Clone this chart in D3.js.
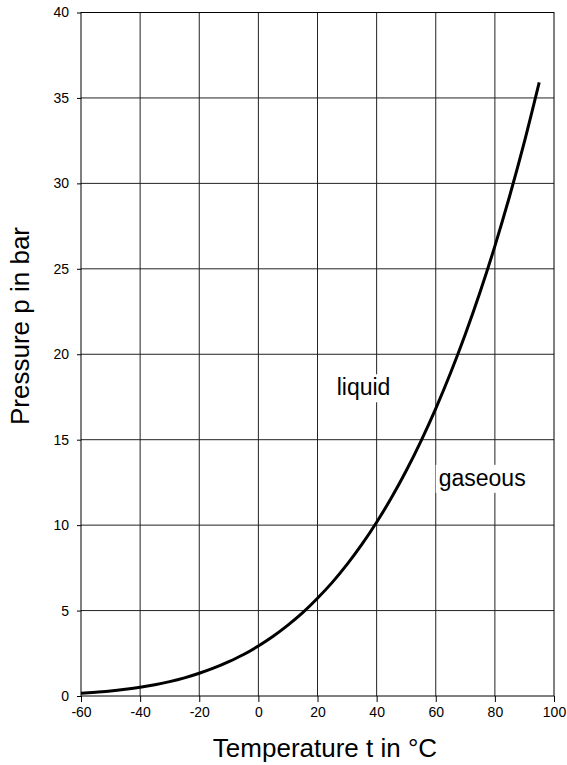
<!DOCTYPE html>
<html>
<head>
<meta charset="utf-8">
<script src="https://cdn.jsdelivr.net/npm/d3@7"></script>
<style>
    body { margin: 0; background: #fff; }
    svg { display: block; font-family: Arial, "Liberation Sans", sans-serif; }
</style>
</head>
<body>
<svg id="chart" width="567" height="765"></svg>
<script>
// vapour pressure curve, temperature in °C vs pressure in bar
const temps = [-60, -55, -50, -45, -40, -35, -30, -25, -20, -15, -10, -5, 0, 5, 10, 15,
    20, 25, 30, 35, 40, 45, 50, 55, 60, 65, 70, 75, 80, 85, 90, 95];
const pressures = [0.16, 0.22, 0.29, 0.39, 0.51, 0.66, 0.84, 1.06, 1.33, 1.64, 2.01, 2.43, 2.93, 3.50, 4.15, 4.88,
    5.72, 6.65, 7.70, 8.87, 10.17, 11.60, 13.18, 14.92, 16.82, 18.90, 21.17, 23.64, 26.33, 29.26, 32.44, 35.91];

const xTicks = [-60, -40, -20, 0, 20, 40, 60, 80, 100];
const yTicks = [0, 5, 10, 15, 20, 25, 30, 35, 40];

// region labels: [text, t, p]
const regionLabels = [["liquid", 26.5, 17.6], ["gaseous", 61, 12.3]];

const svg = d3.select("#chart");
const margin = {top: 12.5, right: 13, bottom: 69, left: 81};
const width = 567 - margin.left - margin.right;
const height = 765 - margin.top - margin.bottom;

const x = d3.scaleLinear().domain([-60, 100]).range([0, width]);
const y = d3.scaleLinear().domain([0, 40]).range([height, 0]);

const g = svg.append("g")
    .attr("transform", "translate(" + margin.left + "," + margin.top + ")");

// grid
g.append("g").selectAll("line").data(xTicks.slice(1, -1)).join("line")
    .attr("x1", d => x(d)).attr("x2", d => x(d))
    .attr("y1", 0).attr("y2", height)
    .attr("stroke", "#222").attr("stroke-width", 1);
g.append("g").selectAll("line").data(yTicks.slice(1, -1)).join("line")
    .attr("x1", 0).attr("x2", width)
    .attr("y1", d => y(d)).attr("y2", d => y(d))
    .attr("stroke", "#222").attr("stroke-width", 1);

// frame
g.append("rect")
    .attr("width", width).attr("height", height)
    .attr("fill", "none").attr("stroke", "#000").attr("stroke-width", 1);

// axes (plain hyphen for negatives, like the original)
let xAxis = d3.axisBottom(x).tickValues(xTicks).tickSize(6).tickPadding(5)
    .tickFormat(d => String(d));
let yAxis = d3.axisLeft(y).tickValues(yTicks).tickSize(4).tickPadding(8)
    .tickFormat(d => String(d));

g.append("g").attr("transform", "translate(0," + height + ")").call(xAxis)
    .call(a => a.select(".domain").remove())
    .selectAll("text").attr("font-size", 14).attr("fill", "#000")
    .attr("font-family", "Arial, 'Liberation Sans', sans-serif");
g.append("g").call(yAxis)
    .call(a => a.select(".domain").remove())
    .selectAll("text").attr("font-size", 14).attr("fill", "#000")
    .attr("font-family", "Arial, 'Liberation Sans', sans-serif");

// curve
const line = d3.line()
    .x((d, i) => x(temps[i]))
    .y(d => y(d))
    .curve(d3.curveMonotoneX);
g.append("path")
    .datum(pressures)
    .attr("d", line)
    .attr("fill", "none")
    .attr("stroke", "#000")
    .attr("stroke-width", 3);

// labels with white boxes
regionLabels.forEach(function (r) {
    let lg = g.append("g");
    let box = lg.append("rect").attr("fill", "#fff");
    let t = lg.append("text")
        .attr("x", x(r[1])).attr("y", y(r[2]))
        .attr("font-size", 23)
        .attr("fill", "#000")
        .text(r[0]);
    let bb = t.node().getBBox();
    box.attr("x", bb.x - 3).attr("y", bb.y)
        .attr("width", bb.width + 6).attr("height", bb.height + 2);
});

// axis titles
svg.append("text")
    .attr("x", 325).attr("y", 757)
    .attr("text-anchor", "middle")
    .attr("font-size", 26)
    .text("Temperature t in °C");
svg.append("text")
    .attr("transform", "translate(28.5,326) rotate(-90)")
    .attr("text-anchor", "middle")
    .attr("font-size", 26)
    .text("Pressure p in bar");
</script>
</body>
</html>
